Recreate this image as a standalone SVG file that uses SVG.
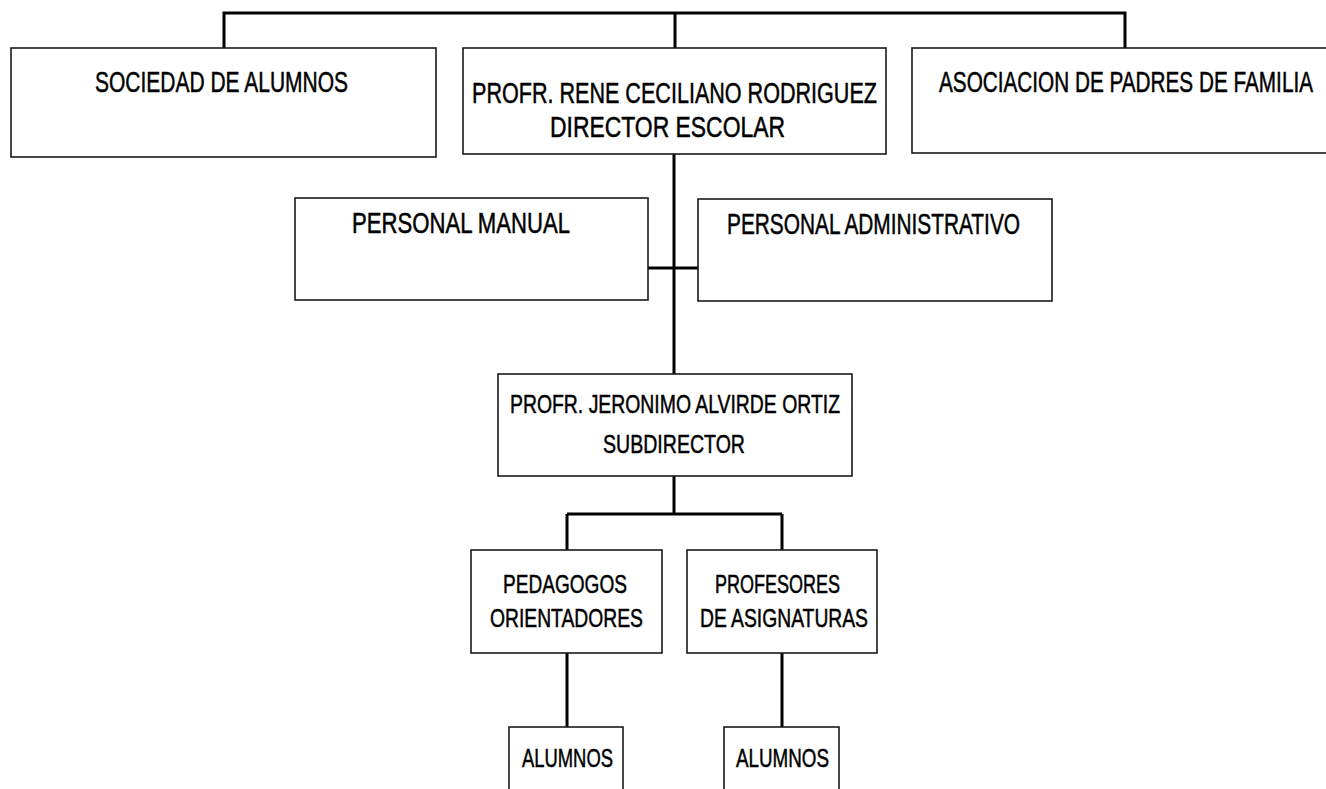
<svg xmlns="http://www.w3.org/2000/svg" width="1326" height="789" viewBox="0 0 1326 789">
<style>
.box{fill:#fff;stroke:#1a1a1a;stroke-width:1.6}
.lbl{font-family:"Liberation Sans",Arial,sans-serif;font-size:29px;fill:#000;stroke:#000;stroke-width:0.5}
.sm{font-size:26px}
.con{fill:none;stroke:#000;stroke-width:3}
</style>
<rect width="1326" height="789" fill="#fff"/>
<g id="connectors">
<path class="con" d="M224 48V13H1125V48M675 13V48"/>
<path class="con" d="M674 153V374M648 268H698"/>
<path class="con" d="M674 476V514M567 514H782M567 514V550M782 514V550"/>
<path class="con" d="M567 653V727M782 653V727"/>
</g>
<g id="sociedad">
<rect class="box" x="11" y="48" width="425" height="109"/>
<text class="lbl" x="95" y="92" textLength="253" lengthAdjust="spacingAndGlyphs">SOCIEDAD DE ALUMNOS</text>
</g>
<g id="director">
<rect class="box" x="463" y="48" width="423" height="106"/>
<text class="lbl" x="472" y="103" textLength="405" lengthAdjust="spacingAndGlyphs">PROFR. RENE CECILIANO RODRIGUEZ</text>
<text class="lbl" x="550" y="137" textLength="235" lengthAdjust="spacingAndGlyphs">DIRECTOR ESCOLAR</text>
</g>
<g id="asociacion">
<rect class="box" x="912" y="48" width="430" height="105"/>
<text class="lbl" x="939" y="92" textLength="374" lengthAdjust="spacingAndGlyphs">ASOCIACION DE PADRES DE FAMILIA</text>
</g>
<g id="personal-manual">
<rect class="box" x="295" y="198" width="353" height="102"/>
<text class="lbl" x="352" y="233" textLength="218" lengthAdjust="spacingAndGlyphs">PERSONAL MANUAL</text>
</g>
<g id="personal-administrativo">
<rect class="box" x="698" y="199" width="354" height="102"/>
<text class="lbl" x="727" y="234" textLength="293" lengthAdjust="spacingAndGlyphs">PERSONAL ADMINISTRATIVO</text>
</g>
<g id="subdirector">
<rect class="box" x="498" y="374" width="354" height="102"/>
<text class="lbl sm" x="510" y="413" textLength="330" lengthAdjust="spacingAndGlyphs">PROFR. JERONIMO ALVIRDE ORTIZ</text>
<text class="lbl sm" x="603" y="453" textLength="142" lengthAdjust="spacingAndGlyphs">SUBDIRECTOR</text>
</g>
<g id="pedagogos">
<rect class="box" x="471" y="550" width="191" height="103"/>
<text class="lbl sm" x="503" y="593" textLength="124" lengthAdjust="spacingAndGlyphs">PEDAGOGOS</text>
<text class="lbl sm" x="490" y="627" textLength="153" lengthAdjust="spacingAndGlyphs">ORIENTADORES</text>
</g>
<g id="profesores">
<rect class="box" x="687" y="550" width="190" height="103"/>
<text class="lbl sm" x="715" y="593" textLength="125" lengthAdjust="spacingAndGlyphs">PROFESORES</text>
<text class="lbl sm" x="700" y="627" textLength="168" lengthAdjust="spacingAndGlyphs">DE ASIGNATURAS</text>
</g>
<g id="alumnos-1">
<rect class="box" x="509" y="727" width="114" height="80"/>
<text class="lbl sm" x="522" y="767" textLength="91" lengthAdjust="spacingAndGlyphs">ALUMNOS</text>
</g>
<g id="alumnos-2">
<rect class="box" x="724" y="727" width="115" height="80"/>
<text class="lbl sm" x="736" y="767" textLength="93" lengthAdjust="spacingAndGlyphs">ALUMNOS</text>
</g>
</svg>
